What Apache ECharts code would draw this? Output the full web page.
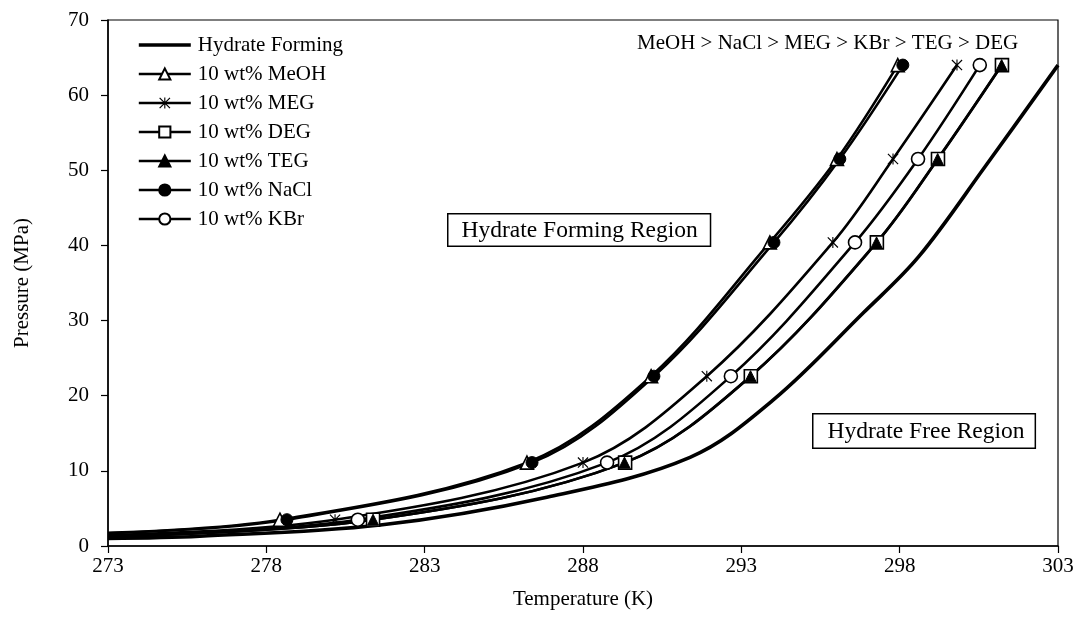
<!DOCTYPE html>
<html>
<head>
<meta charset="utf-8">
<script src="https://cdn.jsdelivr.net/npm/echarts@6/dist/echarts.min.js"></script>
<style>
html,body{margin:0;padding:0;background:#fff;}
#chart{width:1077px;height:641px;}
</style>
</head>
<body>
<div id="chart"></div>
<script>
// ---- Data ----
// Pressures (MPa) at which inhibitor data points are marked
const markerPressures = [3.5, 11.1, 22.6, 40.4, 51.5, 64.0];
// Temperatures (K) at those pressures for each inhibitor
const tMeOH = [278.43, 286.23, 290.15, 293.90, 296.02, 297.94];
const tMEG  = [280.17, 288.00, 291.91, 295.89, 297.79, 299.81];
const tDEG  = [281.37, 289.33, 293.30, 297.28, 299.21, 301.23];
const tTEG  = [281.37, 289.31, 293.29, 297.27, 299.20, 301.22];
const tNaCl = [278.65, 286.39, 290.24, 294.03, 296.11, 298.10];
const tKBr  = [280.89, 288.76, 292.67, 296.59, 298.58, 300.53];
// Pressure of each curve where it starts at 273 K (unmarked start point)
const startT = 273;
const startP = {MeOH: 1.75, MEG: 1.45, DEG: 1.28, TEG: 1.26, NaCl: 1.70, KBr: 1.36};
// Uninhibited hydrate forming curve (no markers)
const hydrateT = [273, 275.9, 281.6, 286.86, 291.38, 294.0, 296.87, 298.6, 300.7, 303];
const hydrateP = [1.0, 1.3, 2.8, 6.5, 11.8, 19.4, 31.1, 38.5, 50.5, 64.0];

const xTicks = {min: 273, max: 303, interval: 5};
const yTicks = {min: 0, max: 70, interval: 10};
const orderText = 'MeOH > NaCl > MEG > KBr > TEG > DEG';

// ---- Build ----
const FONT = 'Liberation Serif, Times New Roman, serif';
const asterisk = 'path://M9,0L11,0L11,20L9,20Z M0,1.5L1.5,0L20,18.5L18.5,20Z M18.5,0L20,1.5L1.5,20L0,18.5Z';

function inhibitorSeries(name, temps, p0, symbol, fill, size) {
  const data = [{value: [startT, p0], symbol: 'none'}];
  temps.forEach((t, i) => data.push([t, markerPressures[i]]));
  return {
    name: name,
    type: 'line',
    data: data,
    smooth: 0.35,
    symbol: symbol,
    symbolSize: size,
    showAllSymbol: true,
    lineStyle: {color: '#000', width: 2.6},
    itemStyle: fill ? {color: '#000', borderColor: '#000', borderWidth: 1}
                    : {color: '#fff', borderColor: '#000', borderWidth: 1.6},
    emphasis: {disabled: true},
    animation: false,
    z: 3
  };
}

const series = [
  {
    name: 'Hydrate Forming',
    type: 'line',
    data: hydrateT.map((t, i) => [t, hydrateP[i]]),
    smooth: 0.35,
    symbol: 'circle',
    symbolSize: 0,
    showSymbol: false,
    lineStyle: {color: '#000', width: 3.6},
    itemStyle: {color: '#000'},
    emphasis: {disabled: true},
    animation: false,
    z: 2
  },
  inhibitorSeries('10 wt% MeOH', tMeOH, startP.MeOH, 'triangle', false, 13),
  inhibitorSeries('10 wt% MEG', tMEG, startP.MEG, asterisk, true, 11),
  inhibitorSeries('10 wt% DEG', tDEG, startP.DEG, 'rect', false, 13),
  inhibitorSeries('10 wt% TEG', tTEG, startP.TEG, 'triangle', true, 11),
  inhibitorSeries('10 wt% NaCl', tNaCl, startP.NaCl, 'circle', true, 12),
  inhibitorSeries('10 wt% KBr', tKBr, startP.KBr, 'circle', false, 13)
];
// MEG asterisk: no border
series[2].itemStyle = {color: '#000', borderWidth: 0};

const legendData = series.map((s, i) => i === 0
  ? {name: s.name, itemStyle: {color: 'rgba(0,0,0,0)', borderWidth: 0, opacity: 0}, lineStyle: {width: 3.6, color: '#000'}}
  : {name: s.name, lineStyle: {width: 2.6, color: '#000'}});

const chart = echarts.init(document.getElementById('chart'), null, {renderer: 'canvas'});
chart.setOption({
  backgroundColor: '#fff',
  animation: false,
  textStyle: {fontFamily: FONT, color: '#000'},
  grid: {left: 108, right: 19, top: 20, bottom: 95, show: true, borderColor: '#000', borderWidth: 1.2, backgroundColor: 'transparent'},
  legend: {
    orient: 'vertical',
    left: 137, top: 34, padding: 0,
    itemWidth: 52, itemHeight: 14, itemGap: 7,
    textStyle: {fontFamily: FONT, fontSize: 21, color: '#000', lineHeight: 22, padding: [0, 0, 0, 2]},
    data: legendData,
    selectedMode: false
  },
  xAxis: {
    type: 'value', min: xTicks.min, max: xTicks.max, interval: xTicks.interval,
    name: 'Temperature (K)', nameLocation: 'middle', nameGap: 43,
    nameTextStyle: {fontFamily: FONT, fontSize: 21, color: '#000'},
    axisLine: {show: true, onZero: false, lineStyle: {color: '#000', width: 1.5}},
    axisTick: {show: true, inside: false, length: 7, lineStyle: {color: '#000', width: 1.2}},
    axisLabel: {fontFamily: FONT, fontSize: 21, color: '#000', margin: 10},
    splitLine: {show: false}
  },
  yAxis: {
    type: 'value', min: yTicks.min, max: yTicks.max, interval: yTicks.interval,
    name: 'Pressure (MPa)', nameLocation: 'middle', nameGap: 75,
    nameTextStyle: {fontFamily: FONT, fontSize: 21, color: '#000'},
    axisLine: {show: true, onZero: false, lineStyle: {color: '#000', width: 1.5}},
    axisTick: {show: true, inside: false, length: 7, lineStyle: {color: '#000', width: 1.2}},
    axisLabel: {fontFamily: FONT, fontSize: 21, color: '#000', margin: 19},
    splitLine: {show: false}
  },
  graphic: [
    {type: 'text', left: 637, top: 33, z: 10,
     style: {text: orderText, font: '21px ' + FONT, fill: '#000'}},
    {type: 'text', left: 447, top: 213, z: 10,
     style: {text: 'Hydrate Forming Region', font: '23.5px ' + FONT, fill: '#000',
             backgroundColor: '#fff', borderColor: '#000', borderWidth: 1.5, padding: [4, 12, 3, 13]}},
    {type: 'text', left: 812, top: 413, z: 10,
     style: {text: 'Hydrate Free Region', font: '23.5px ' + FONT, fill: '#000',
             backgroundColor: '#fff', borderColor: '#000', borderWidth: 1.5, padding: [5, 10, 4, 14]}}
  ],
  series: series
});
</script>
</body>
</html>
